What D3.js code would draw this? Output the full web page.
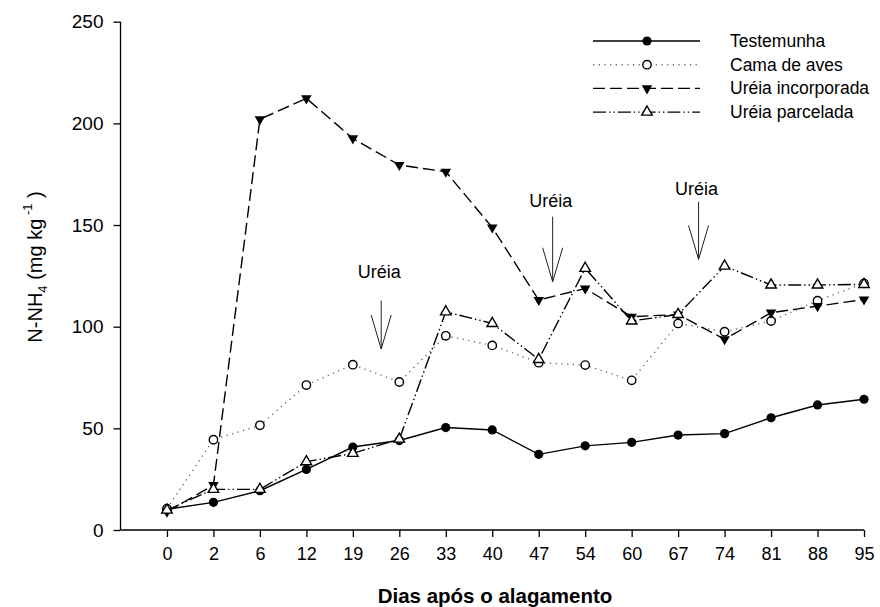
<!DOCTYPE html>
<html>
<head>
<meta charset="utf-8">
<script src="https://cdn.jsdelivr.net/npm/d3@7"></script>
<style>
  html, body { margin: 0; padding: 0; background: #fff; }
  svg { display: block; font-family: "Liberation Sans", Arial, sans-serif; }
</style>
</head>
<body>
<svg id="chart" width="880" height="607"></svg>
<script>
// ---------- data ----------
const days = ["0","2","6","12","19","26","33","40","47","54","60","67","74","81","88","95"];
const yTicks = [0, 50, 100, 150, 200, 250];

const testemunha   = [10.2, 13.6, 19.3, 29.8, 40.8, 44.0, 50.4, 49.2, 37.2, 41.4, 43.1, 46.7, 47.4, 55.2, 61.5, 64.3];
const camaDeAves   = [10.5, 44.4, 51.5, 71.3, 81.3, 72.8, 95.5, 90.8, 82.3, 81.1, 73.6, 101.6, 97.5, 102.8, 112.8, 121.3];
const ureiaIncorp  = [9.0, 22.1, 202.0, 212.3, 192.6, 179.5, 176.2, 148.8, 113.1, 118.8, 104.9, 106.0, 93.8, 106.9, 110.1, 113.4];
const ureiaParcel  = [9.8, 20.0, 20.0, 33.6, 37.7, 44.7, 107.3, 101.6, 83.9, 128.7, 102.8, 106.0, 129.8, 120.5, 120.5, 120.8];

const seriesNames = ["Testemunha", "Cama de aves", "Uréia incorporada", "Uréia parcelada"];

// annotation arrows: position in category-index units, top of shaft, tip, label baseline (data units)
const arrowLabel = ["Uréia", "Uréia", "Uréia"];
const arrowIndex = [4.61, 8.30, 11.44];
const arrowTop   = [112.8, 154.1, 161.4];
const arrowTip   = [89.0, 122.1, 133.1];
const arrowText  = [123.9, 158.8, 164.7];

// ---------- layout ----------
const svg = d3.select("#chart");
const pLeft = 120.5, pRight = 864, pTop = 21.7, pBottom = 530;

const x = d3.scalePoint().domain(days).range([pLeft + (pRight - pLeft) / 16, pRight]).padding(0);
const y = d3.scaleLinear().domain([0, 250]).range([pBottom, pTop]);
const step = x.step();

const styles = [
  { dash: null, color: "#000", width: 1.4, marker: "filledCircle" },
  { dash: "1.2,4.5", color: "#666", width: 1.4, marker: "openCircle" },
  { dash: "12,5", color: "#000", width: 1.4, marker: "downTriangle" },
  { dash: "13,3,1.4,3,1.4,3", color: "#000", width: 1.4, marker: "upTriangle" }
];
const allSeries = [testemunha, camaDeAves, ureiaIncorp, ureiaParcel];

// ---------- axes ----------
const yAxis = d3.axisLeft(y).tickValues(yTicks).tickSize(7).tickPadding(10).tickSizeOuter(0);
const gy = svg.append("g").attr("transform", `translate(${pLeft},0)`).call(yAxis);
gy.select(".domain").remove();
gy.append("line").attr("x1", 0).attr("x2", 0).attr("y1", y(250)).attr("y2", y(0))
  .attr("stroke", "#000").attr("stroke-width", 1.3);
gy.selectAll(".tick line").attr("stroke-width", 1.3);
gy.selectAll(".tick text").attr("font-size", 19).attr("fill", "#000")
  .attr("font-family", "'Liberation Sans', Arial, sans-serif");

const xAxis = d3.axisBottom(x).tickSize(7).tickPadding(10).tickSizeOuter(0);
const gx = svg.append("g").attr("transform", `translate(0,${pBottom})`).call(xAxis);
gx.select(".domain").remove();
gx.append("line").attr("x1", pLeft).attr("x2", pRight).attr("y1", 0).attr("y2", 0)
  .attr("stroke", "#000").attr("stroke-width", 1.3);
gx.selectAll(".tick line").attr("stroke-width", 1.3);
gx.selectAll(".tick text").attr("font-size", 18).attr("fill", "#000")
  .attr("font-family", "'Liberation Sans', Arial, sans-serif");

// axis titles
svg.append("text")
  .attr("x", 495).attr("y", 603)
  .attr("text-anchor", "middle").attr("font-size", 20.5).attr("font-weight", "bold")
  .text("Dias após o alagamento");

const yt = svg.append("text")
  .attr("transform", `translate(42,267) rotate(-90)`)
  .attr("text-anchor", "middle").attr("font-size", 20);
yt.append("tspan").text("N-NH");
yt.append("tspan").attr("font-size", 13).attr("dy", 5).text("4");
yt.append("tspan").attr("dy", -5).text(" (mg kg");
yt.append("tspan").attr("font-size", 13).attr("dy", -10).text(" -1");
yt.append("tspan").attr("dy", 10).text(" )");

// ---------- markers ----------
function drawMarker(g, type, cx, cy) {
  if (type === "filledCircle") {
    g.append("circle").attr("cx", cx).attr("cy", cy).attr("r", 4.6).attr("fill", "#000");
  } else if (type === "openCircle") {
    g.append("circle").attr("cx", cx).attr("cy", cy).attr("r", 4.2)
      .attr("fill", "#fff").attr("stroke", "#000").attr("stroke-width", 1.4);
  } else if (type === "downTriangle") {
    g.append("path").attr("d", d3.symbol().type(d3.symbolTriangle).size(48)())
      .attr("transform", `translate(${cx},${cy}) rotate(180)`).attr("fill", "#000");
  } else {
    g.append("path").attr("d", d3.symbol().type(d3.symbolTriangle).size(48)())
      .attr("transform", `translate(${cx},${cy})`)
      .attr("fill", "#fff").attr("stroke", "#000").attr("stroke-width", 1.4);
  }
}

// ---------- series ----------
const line = d3.line().x((d, i) => x(days[i])).y(d => y(d));
allSeries.forEach((vals, si) => {
  const st = styles[si];
  const g = svg.append("g");
  g.append("path").datum(vals).attr("d", line).attr("fill", "none")
    .attr("stroke", st.color).attr("stroke-width", st.width)
    .attr("stroke-dasharray", st.dash);
  vals.forEach((v, i) => drawMarker(g, st.marker, x(days[i]), y(v)));
});

// ---------- annotations ----------
arrowLabel.forEach((lab, i) => {
  const ax = x(days[0]) + arrowIndex[i] * step;
  const g = svg.append("g").attr("stroke", "#222").attr("stroke-width", 1).attr("fill", "none");
  g.append("line").attr("x1", ax).attr("x2", ax).attr("y1", y(arrowTop[i])).attr("y2", y(arrowTip[i]));
  const tipY = y(arrowTip[i]);
  g.append("path").attr("d", `M${ax - 10},${tipY - 34} L${ax},${tipY} L${ax + 10},${tipY - 34}`);
  svg.append("text").attr("x", ax - 2).attr("y", y(arrowText[i]))
    .attr("text-anchor", "middle").attr("font-size", 18).text(lab);
});

// ---------- legend ----------
const legY0 = 41, legDY = 23.7;
seriesNames.forEach((name, i) => {
  const st = styles[i];
  const ly = legY0 + i * legDY;
  const g = svg.append("g");
  g.append("line").attr("x1", 593).attr("x2", 700).attr("y1", ly).attr("y2", ly)
    .attr("stroke", st.color).attr("stroke-width", st.width).attr("stroke-dasharray", st.dash);
  drawMarker(g, st.marker, 647, ly);
  svg.append("text").attr("x", 730).attr("y", ly + 6).attr("font-size", 17.5).text(name);
});
</script>
</body>
</html>
